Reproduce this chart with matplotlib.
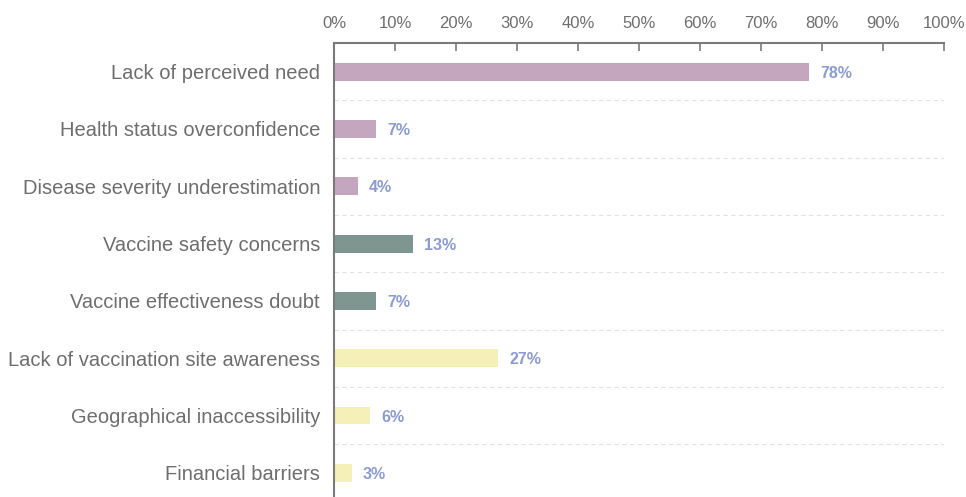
import matplotlib.pyplot as plt
import numpy as np

plt.rcParams['font.family'] = ['Liberation Sans', 'DejaVu Sans']

categories = ['Lack of perceived need', 'Health status overconfidence',
              'Disease severity underestimation', 'Vaccine safety concerns',
              'Vaccine effectiveness doubt', 'Lack of vaccination site awareness',
              'Geographical inaccessibility', 'Financial barriers']
values = [77.9, 6.9, 3.9, 13.0, 6.9, 26.9, 5.9, 2.95]
labels = ['78%', '7%', '4%', '13%', '7%', '27%', '6%', '3%']
colors = ['#c4a7bf', '#c4a7bf', '#c4a7bf', '#7f9690', '#7f9690',
          '#f5f0b8', '#f5f0b8', '#f5f0b8']

fig = plt.figure(figsize=(9.66, 4.97), dpi=100)
ax = fig.add_axes([334/966, 0, 610/966, 454/497])

y = np.arange(len(categories))
ax.barh(y, values, height=0.31, color=colors)
for i in range(len(values)):
    ax.text(values[i] + 1.8, y[i], labels[i], va='center_baseline', ha='left',
            color='#8c9bd0', fontsize=11.5, fontweight='bold')

# separatori tratteggiati tra le categorie
for yy in np.arange(0.5, len(categories) - 0.5, 1):
    ax.plot([0, 100], [yy, yy], ls=(0, (4, 3)), lw=0.8, color='#e2e2e2', zorder=0)

ax.set_xlim(0, 100)
ax.set_ylim(len(categories) - 0.58, -0.5)
ax.xaxis.tick_top()
ax.set_xticks(np.arange(0, 101, 10))
ax.set_xticklabels([f'{x}%' for x in range(0, 101, 10)])
ax.tick_params(axis='x', direction='in', length=6, width=1.2, color='#7a7a7a',
               labelcolor='#6e6e6e', labelsize=12, pad=9)
ax.set_yticks(y)
ax.set_yticklabels(categories)
ax.tick_params(axis='y', length=0, labelcolor='#6e6e6e', labelsize=14.5, pad=10)

for s in ['right', 'bottom']:
    ax.spines[s].set_visible(False)
for s in ['top', 'left']:
    ax.spines[s].set_color('#7a7a7a')
    ax.spines[s].set_linewidth(1.5)

plt.savefig('out.png', dpi=100)
